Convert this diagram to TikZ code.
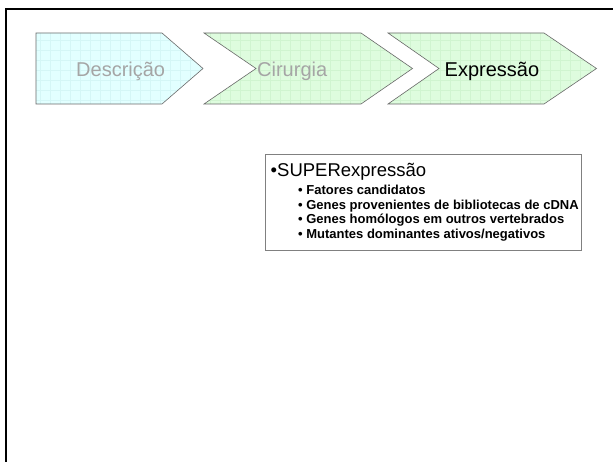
\documentclass[tikz,border=0pt]{standalone}
\usepackage{fontspec}
\setmainfont{Liberation Sans}
\usepackage{xcolor}
\usetikzlibrary{positioning}
\definecolor{stagecyan}{RGB}{226,255,255}
\definecolor{stagegreen}{RGB}{222,252,222}
\definecolor{gridcyan}{RGB}{212,246,246}
\definecolor{gridgreen}{RGB}{208,244,208}
\definecolor{stageline}{RGB}{105,105,105}
\definecolor{fadedtext}{RGB}{165,165,165}
\tikzset{frame-line/.style={line width=2.5bp, black}}
\tikzset{stage-shape/.style={draw=stageline, line width=0.6bp}}
\tikzset{stage-cyan/.style={stage-shape, fill=stagecyan,
        path picture={\draw[gridcyan, line width=0.3bp] (path picture bounding box.south west) grid[step=10bp] (path picture bounding box.north east);}}}
\tikzset{stage-green/.style={stage-shape, fill=stagegreen,
        path picture={\draw[gridgreen, line width=0.3bp] (path picture bounding box.south west) grid[step=10bp] (path picture bounding box.north east);}}}
\tikzset{stage-label/.style={anchor=base west, inner sep=0, font=\fontsize{20bp}{24bp}\selectfont}}
\tikzset{note-box/.style={draw=gray, line width=0.7bp, inner sep=0, anchor=north west}}
\tikzset{note-title/.style={anchor=base west, inner sep=0, font=\fontsize{18.5bp}{22bp}\selectfont}}
\tikzset{note-item/.style={anchor=base west, inner sep=0, font=\fontsize{13bp}{15bp}\selectfont\bfseries}}

\begin{document}
\begin{tikzpicture}[x=1bp, y=-1bp]
            \useasboundingbox[fill=white] (0,0) rectangle (613,462);

            \draw[frame-line] (6,462) -- (6,9) -- (613,9);

            \path[stage-cyan] (36,33) -- (162,33) -- (203,68.5) -- (162,104) -- (36,104) -- cycle;
            \path[stage-green] (204,33) -- (361,33) -- (412.5,68.5) -- (361,104) -- (204,104) -- (256,68.5) -- cycle;
            \path[stage-green] (388,33) -- (544,33) -- (596.5,68.5) -- (544,104) -- (388,104) -- (439,68.5) -- cycle;

            \node[stage-label, text=fadedtext] (stage1) at (76,76.5) {Descrição};
            \node[stage-label, text=fadedtext] (stage2) at (257,76.5) {Cirurgia};
            \node[stage-label] (stage3) at (444.5,76.5) {Expressão};

            \node[note-box, minimum width=316bp, minimum height=96bp] (note) at (265,154) {};
            \node[note-title] (title) at (270.5,177) {•SUPERexpressão};
            \node[note-item] (item1) at (298,195) {• Fatores candidatos};
            \node[note-item] (item2) at (298,209.5) {• Genes provenientes de bibliotecas de cDNA};
            \node[note-item] (item3) at (298,224) {• Genes homólogos em outros vertebrados};
            \node[note-item] (item4) at (298,238.5) {• Mutantes dominantes ativos/negativos};

        \end{tikzpicture}
\end{document}
